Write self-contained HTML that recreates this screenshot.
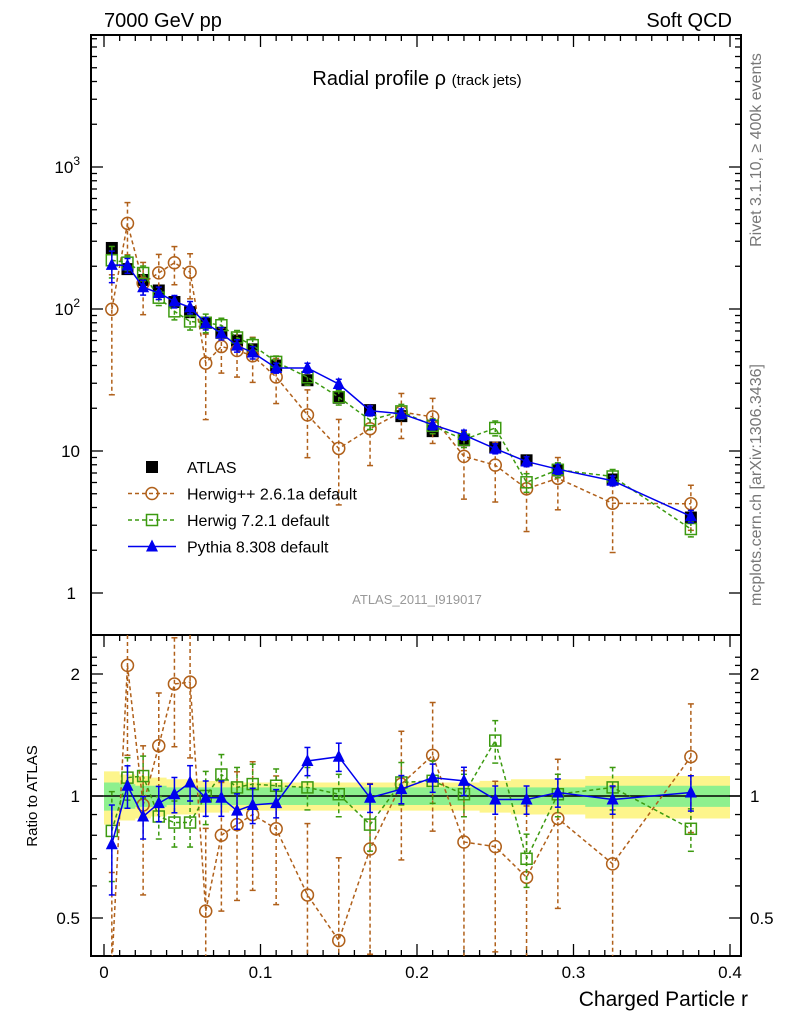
<!DOCTYPE html>
<html><head><meta charset="utf-8"><style>
html,body{margin:0;padding:0;background:#fff;width:786px;height:1024px;overflow:hidden}
svg{display:block;overflow:hidden}
svg text{font-family:"Liberation Sans",sans-serif}
</style></head><body>
<svg id="c" width="786" height="1024" xmlns="http://www.w3.org/2000/svg">
<text x="104" y="27" font-size="20">7000 GeV pp</text>
<text x="732" y="27" font-size="20" text-anchor="end">Soft QCD</text>
<text x="417" y="85" font-size="20" text-anchor="middle">Radial profile ρ <tspan font-size="15">(track jets)</tspan></text>
<text x="417" y="604" font-size="13" fill="#999" text-anchor="middle">ATLAS_2011_I919017</text>
<text transform="translate(761,150) rotate(-90)" font-size="16" fill="#777" text-anchor="middle">Rivet 3.1.10, ≥ 400k events</text>
<text transform="translate(761,485) rotate(-90)" font-size="16" fill="#777" text-anchor="middle">mcplots.cern.ch [arXiv:1306.3436]</text>
<text transform="translate(37,796) rotate(-90)" font-size="15" text-anchor="middle">Ratio to ATLAS</text>
<text x="748" y="1006" font-size="21" text-anchor="end">Charged Particle r</text>
<g id="g"></g>
</svg>
<script>
const rVals=[0.005,0.015,0.025,0.035,0.045,0.055,0.065,0.075,0.085,0.095,0.11,0.13,0.15,0.17,0.19,0.21,0.23,0.25,0.27,0.29,0.325,0.375];
const atlas=[269,191,160,135,112,95,80,68,60,52,40,31.5,23.7,19.4,17.6,13.8,11.9,10.6,8.6,7.3,6.3,3.4];
const hwppRatio=[0.37,2.1,0.95,1.33,1.89,1.91,0.52,0.80,0.85,0.90,0.83,0.57,0.44,0.74,1.07,1.26,0.77,0.75,0.63,0.88,0.68,1.25];
const hwppErr=[0.75,0.4,0.4,0.35,0.3,0.35,0.6,0.35,0.35,0.35,0.35,0.5,0.6,0.45,0.35,0.35,0.5,0.45,0.5,0.4,0.55,0.35];
const hw7Ratio=[0.82,1.11,1.12,0.89,0.86,0.86,1.0,1.13,1.05,1.07,1.06,1.05,1.01,0.85,1.08,1.09,1.01,1.37,0.70,1.01,1.05,0.83];
const hw7Err=[0.25,0.12,0.12,0.12,0.13,0.13,0.15,0.12,0.12,0.12,0.1,0.12,0.12,0.14,0.12,0.12,0.12,0.12,0.15,0.12,0.12,0.12];
const py8Ratio=[0.76,1.06,0.89,0.96,1.01,1.08,0.99,0.99,0.92,0.95,0.96,1.22,1.25,0.99,1.04,1.11,1.09,0.98,0.98,1.02,0.98,1.02];
const py8Err=[0.25,0.12,0.12,0.1,0.1,0.1,0.1,0.1,0.1,0.1,0.08,0.08,0.08,0.08,0.08,0.08,0.08,0.08,0.08,0.08,0.08,0.1];
const bandYellow=[0.15,0.13,0.12,0.11,0.1,0.1,0.09,0.09,0.08,0.08,0.08,0.08,0.08,0.08,0.08,0.08,0.08,0.09,0.1,0.1,0.12,0.12];
const bandGreen=[0.08,0.07,0.06,0.06,0.05,0.05,0.05,0.05,0.05,0.05,0.05,0.05,0.05,0.05,0.05,0.05,0.05,0.05,0.05,0.05,0.06,0.06];
const xTicks=[0,0.1,0.2,0.3,0.4];
const NS='http://www.w3.org/2000/svg',G=document.getElementById('g');
const L=91,R=741,T=35,M=635,B=956;
const X=v=>104+v*1565;
const Y=v=>167-(Math.log10(v)-3)*142;
const YR=v=>796-Math.log2(v)*122;
const clamp=(y,a,b)=>Math.min(Math.max(y,a),b);
function el(t,a,p){const e=document.createElementNS(NS,t);for(const k in a)e.setAttribute(k,a[k]);(p||G).appendChild(e);return e;}
function band(arr,col,nm){let top='',bot='';rVals.forEach((r,i)=>{const x0=i==0?X(0):X((rVals[i-1]+r)/2),x1=i==rVals.length-1?X(0.4):X((r+rVals[i+1])/2);top+=`${x0},${YR(1+arr[i])} ${x1},${YR(1+arr[i])} `;bot=`${x1},${YR(1-arr[i])} ${x0},${YR(1-arr[i])} `+bot;});
const p=el('polygon',{points:top+bot,fill:col});}
band(bandYellow,'#fdf58c','ratio-band-total');band(bandGreen,'#8ef08e','ratio-band-stat');
el('line',{x1:L,x2:R,y1:YR(1),y2:YR(1),stroke:'#000','stroke-width':1.5});
for(const [y0,y1,nm] of [[T,M,'main-frame'],[M,B,'ratio-frame']]){const f=el('rect',{x:L,y:y0,width:R-L,height:y1-y0,fill:'none',stroke:'#000','stroke-width':2});}
for(let i=0;i<=40;i++){const v=i/100,x=X(v),len=i%10==0?12:6;for(const [a,b] of [[M,1],[B,-1],[T,1]]){el('line',{x1:x,x2:x,y1:a,y2:a+b*len,stroke:'#000','stroke-width':1.3});}}
xTicks.forEach(v=>{const t=el('text',{x:X(v),y:978,'font-size':17,'text-anchor':'middle'});t.textContent=v===0?'0':String(v);});
for(let d=0;d<4;d++)for(let m=1;m<10;m++){const v=m*Math.pow(10,d);const y=Y(v);if(y<T||y>M)continue;const len=m==1?12:6;el('line',{x1:L,x2:L+len,y1:y,y2:y,stroke:'#000','stroke-width':1.3});el('line',{x1:R,x2:R-len,y1:y,y2:y,stroke:'#000','stroke-width':1.3});}
[[1,'1'],[10,'10'],[100,'10'],[1000,'10']].forEach(([v,s],i)=>{const t=el('text',{x:i==0?76:80,y:Y(v)+6,'font-size':17,'text-anchor':'end'});t.textContent=s;if(i>1){const sp=el('tspan',{dy:-8,'font-size':12},t);sp.textContent=i==2?'2':'3';}
});
for(let v=0.5;v<=2.3;v+=0.1){const y=YR(v);if(y<M||y>B)continue;const maj=Math.abs(v-0.5)<1e-6||Math.abs(v-1)<1e-6||Math.abs(v-2)<1e-6;const len=maj?12:6;el('line',{x1:L,x2:L+len,y1:y,y2:y,stroke:'#000','stroke-width':1.3});el('line',{x1:R,x2:R-len,y1:y,y2:y,stroke:'#000','stroke-width':1.3});}
[[0.5,'0.5'],[1,'1'],[2,'2']].forEach(([v,s])=>{for(const [x,a] of [[80,'end'],[750,'start']]){const t=el('text',{x:x,y:YR(v)+6,'font-size':17,'text-anchor':a});t.textContent=s;}});
const defs=el('defs',{});const c1=el('clipPath',{id:'cm'},defs);el('rect',{x:L,y:T,width:R-L,height:M-T},c1);const c2=el('clipPath',{id:'cr'},defs);el('rect',{x:L,y:M,width:R-L,height:B-M},c2);
const gm=el('g',{'clip-path':'url(#cm)'}),gr=el('g',{'clip-path':'url(#cr)'});
function marker(type,x,y,col,p){if(type=='sq')return el('rect',{x:x-6,y:y-6,width:12,height:12,fill:'#000'},p);if(type=='osq')return el('rect',{x:x-5.5,y:y-5.5,width:11,height:11,fill:'none',stroke:col,'stroke-width':1.5},p);if(type=='circ')return el('circle',{cx:x,cy:y,r:6,fill:'none',stroke:col,'stroke-width':1.5},p);return el('polygon',{points:`${x},${y-7} ${x-6},${y+5} ${x+6},${y+5}`,fill:col},p);}
function series(ratio,err,col,dash,type,nm){
 for(const [p,yf,vals,y0,y1] of [[gm,Y,ratio.map((r,i)=>r*atlas[i]),T,M],[gr,YR,ratio,M,B]]){
  const g=el('g',{},p);
  el('polyline',{points:rVals.map((r,i)=>X(r)+','+clamp(yf(vals[i]),y0-10,y1+10)).join(' '),fill:'none',stroke:col,'stroke-width':1.5,'stroke-dasharray':dash},g);
  rVals.forEach((r,i)=>{const x=X(r),hiR=yf(vals[i]*(1+err[i])),loR=yf(Math.max(vals[i]*(1-err[i]),1e-3));const hi=clamp(hiR,y0,y1),lo=clamp(loR,y0,y1);
   el('line',{x1:x,x2:x,y1:hi,y2:lo,stroke:col,'stroke-width':1.5,'stroke-dasharray':dash},g);
   if(hiR>=y0)el('line',{x1:x-3,x2:x+3,y1:hi,y2:hi,stroke:col,'stroke-width':1.5},g);
   if(loR<=y1)el('line',{x1:x-3,x2:x+3,y1:lo,y2:lo,stroke:col,'stroke-width':1.5},g);
   const yc=yf(vals[i]);if(yc<y0-8||yc>y1+8)return;
   const m=marker(type,x,yc,col,g);});
 }}
rVals.forEach((r,i)=>{const m=marker('sq',X(r),Y(atlas[i]),'#000',gm);});
series(hwppRatio,hwppErr,'#b0601a','4,3','circ','herwigpp');
series(hw7Ratio,hw7Err,'#3c9a10','4,3','osq','herwig7');
series(py8Ratio,py8Err,'#0000ee','','tri','pythia8');
const leg=[['ATLAS','#000','','sq'],['Herwig++ 2.6.1a default','#b0601a','4,3','circ'],['Herwig 7.2.1 default','#3c9a10','4,3','osq'],['Pythia 8.308 default','#0000ee','','tri']];
leg.forEach(([s,col,d,t],i)=>{const y=467+i*26.5;const g=el('g',{});
 if(i>0)el('line',{x1:128,x2:176,y1:y,y2:y,stroke:col,'stroke-width':1.5,'stroke-dasharray':d},g);
 marker(t,152,y,col,g);const tx=el('text',{x:187,y:y+6,'font-size':16},g);tx.textContent=s;});
</script>
</body></html>
